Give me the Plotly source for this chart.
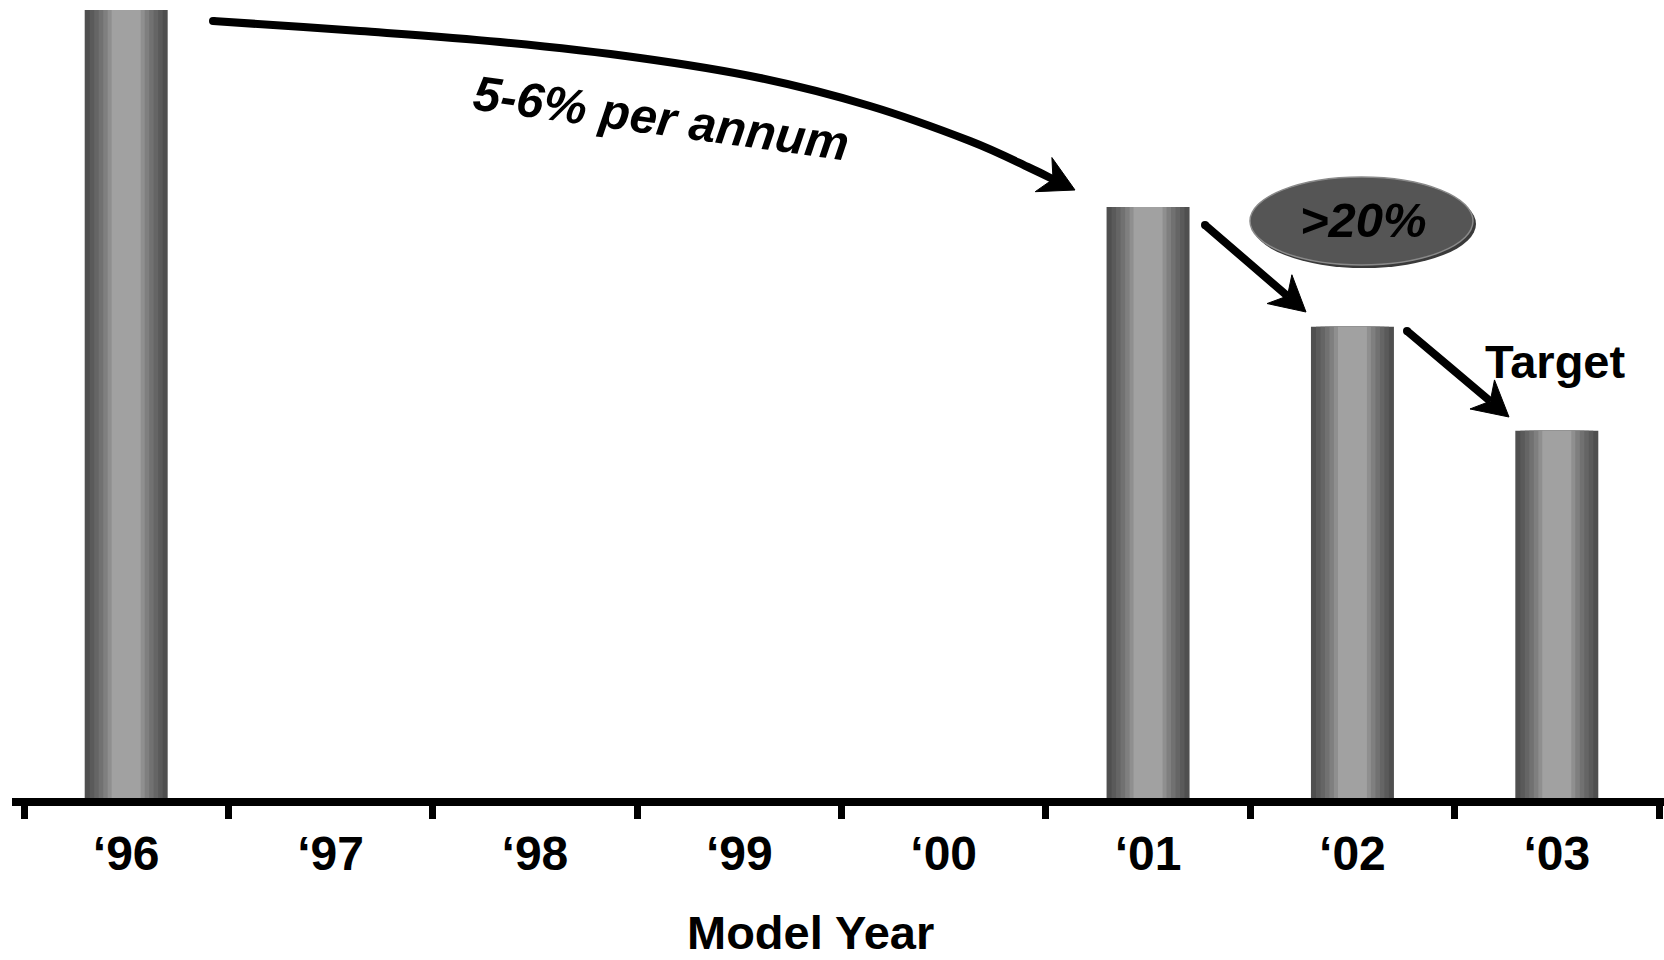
import plotly.graph_objects as go

# ---- data -------------------------------------------------------------
years = ["\u201896", "\u201897", "\u201898", "\u201899", "\u201800", "\u201801", "\u201802", "\u201803"]
values = [100, None, None, None, None, 75, 59.8, 46.6]

# shading bands of each cylinder-style bar: (bar width in category units, grey level)
band_widths = [0.406, 0.357, 0.313, 0.269, 0.225, 0.181, 0.142]
band_colors = ["#4f4f4f", "#5a5a5a", "#656565", "#717171", "#7f7f7f", "#8f8f8f", "#a1a1a1"]

# ---- page geometry (pixels) -------------------------------------------
W, H = 1664, 960
M_L, M_R, M_T, M_B = 12, 0, 10, 162
PW, PH = W - M_L - M_R, H - M_T - M_B
PLOT_BOTTOM = H - M_B

FONT = "Arial, 'Liberation Sans', sans-serif"


def px(x):
    return (x - M_L) / PW


def py(y):
    return (PLOT_BOTTOM - y) / PH


fig = go.Figure()
for w, c in zip(band_widths, band_colors):
    fig.add_trace(go.Bar(
        x=years, y=values, width=w,
        marker=dict(color=c, line=dict(width=0)),
        hoverinfo="skip", showlegend=False,
    ))

shapes = []
LW = 8


def catmull_path(pts):
    d = "M {:.5f},{:.5f}".format(px(pts[0][0]), py(pts[0][1]))
    ext = [pts[0]] + pts + [pts[-1]]
    for i in range(1, len(ext) - 2):
        p0, p1, p2, p3 = ext[i - 1], ext[i], ext[i + 1], ext[i + 2]
        c1 = (p1[0] + (p2[0] - p0[0]) / 6, p1[1] + (p2[1] - p0[1]) / 6)
        c2 = (p2[0] - (p3[0] - p1[0]) / 6, p2[1] - (p3[1] - p1[1]) / 6)
        d += " C {:.5f},{:.5f} {:.5f},{:.5f} {:.5f},{:.5f}".format(
            px(c1[0]), py(c1[1]), px(c2[0]), py(c2[1]), px(p2[0]), py(p2[1]))
    return d


def arrow(shaft_pts, tip, L=35, Wd=19, notch=0.7):
    # direction from the last shaft point to the tip
    sx, sy = shaft_pts[-1]
    dx, dy = tip[0] - sx, tip[1] - sy
    n = (dx * dx + dy * dy) ** 0.5
    ux, uy = dx / n, dy / n
    vx, vy = -uy, ux
    end = (tip[0] - ux * L * notch, tip[1] - uy * L * notch)
    pts = list(shaft_pts) + [end]
    shapes.append(dict(type="path", xref="paper", yref="paper", path=catmull_path(pts),
                       line=dict(color="black", width=LW)))
    # round cap at the start
    x0, y0 = shaft_pts[0]
    r = LW / 2
    shapes.append(dict(type="circle", xref="paper", yref="paper",
                       x0=px(x0 - r), x1=px(x0 + r), y0=py(y0 + r), y1=py(y0 - r),
                       fillcolor="black", line=dict(width=0)))
    # notched arrow head
    b = (tip[0] - ux * L, tip[1] - uy * L)
    w1 = (b[0] + vx * Wd, b[1] + vy * Wd)
    w2 = (b[0] - vx * Wd, b[1] - vy * Wd)
    head = "M {:.5f},{:.5f} L {:.5f},{:.5f} L {:.5f},{:.5f} L {:.5f},{:.5f} Z".format(
        px(tip[0]), py(tip[1]), px(w1[0]), py(w1[1]), px(end[0]), py(end[1]), px(w2[0]), py(w2[1]))
    shapes.append(dict(type="path", xref="paper", yref="paper", path=head,
                       fillcolor="black", line=dict(color="black", width=1)))


# long-term trend arrow
arrow([(213, 21), (360, 31), (500, 42), (640, 58), (760, 78), (870, 106), (970, 141), (1030, 168)],
      (1075, 190))
# step arrows
arrow([(1205, 225)], (1306, 312))
arrow([(1407, 331)], (1509, 417))

# ">20%" badge
shapes.append(dict(type="circle", xref="paper", yref="paper",
                   x0=px(1252), x1=px(1476), y0=py(268), y1=py(180),
                   fillcolor="#3a3a3a", line=dict(width=0)))
shapes.append(dict(type="circle", xref="paper", yref="paper",
                   x0=px(1250), x1=px(1473), y0=py(265), y1=py(177),
                   fillcolor="#555555", line=dict(color="#8a8a8a", width=1.5)))

annotations = [
    dict(text="5-6% per annum", x=px(661), y=py(118), xref="paper", yref="paper",
         showarrow=False, textangle=7.8, xanchor="center", yanchor="middle",
         font=dict(family=FONT, size=49, color="black", weight="bold", style="italic")),
    dict(text=">20%", x=px(1363), y=py(220), xref="paper", yref="paper",
         showarrow=False, xanchor="center", yanchor="middle",
         font=dict(family=FONT, size=49, color="black", weight="bold", style="italic")),
    dict(text="Target", x=px(1555), y=py(361), xref="paper", yref="paper",
         showarrow=False, xanchor="center", yanchor="middle",
         font=dict(family=FONT, size=47, color="black", weight="bold")),
    dict(text="Model Year", x=px(810), y=py(932), xref="paper", yref="paper",
         showarrow=False, xanchor="center", yanchor="middle",
         font=dict(family=FONT, size=47, color="black", weight="bold")),
]

fig.update_layout(
    width=W, height=H,
    margin=dict(l=M_L, r=M_R, t=M_T, b=M_B, pad=0),
    paper_bgcolor="white", plot_bgcolor="white",
    barmode="overlay",
    showlegend=False,
    shapes=shapes,
    annotations=annotations,
    xaxis=dict(
        type="category", categoryorder="array", categoryarray=years,
        range=[-0.5 - 12 / 204.375, 7.5 + 5 / 204.375],
        showline=True, linewidth=8, linecolor="black",
        ticks="outside", tickson="boundaries", ticklen=13, tickwidth=7, tickcolor="black",
        ticklabelstandoff=6,
        tickfont=dict(family=FONT, size=48, color="black", weight="bold"),
        showgrid=False, zeroline=False, fixedrange=True,
    ),
    yaxis=dict(range=[0, 100], visible=False, showgrid=False, zeroline=False, fixedrange=True),
)

fig.write_html("out.html", config={"displayModeBar": False})
